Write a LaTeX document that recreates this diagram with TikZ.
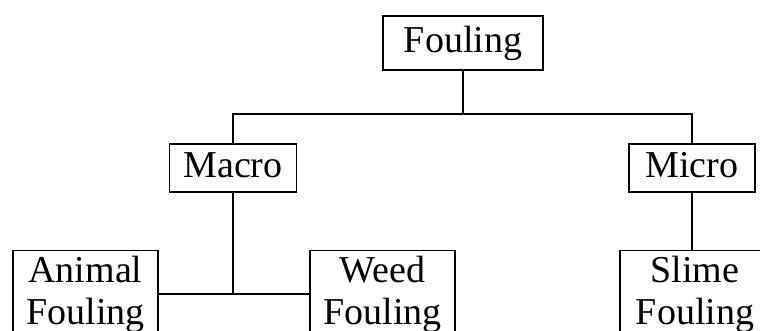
\documentclass[tikz,border=0pt]{standalone}
\usepackage{fontspec}
\setmainfont{Liberation Serif}
\usetikzlibrary{positioning}

\begin{document}
\begin{tikzpicture}[%
x=1pt, y=-1pt,%
box/.style={draw, rectangle, inner sep=0pt, line width=1.3pt, font=\fontsize{38}{42}\selectfont},%
topbox/.style={box, minimum height=48pt, text height=26pt, text depth=6pt},%
leafbox/.style={box, align=center, inner ysep=5pt, anchor=north},%
link/.style={line width=1.3pt},%
  ]
    \useasboundingbox (0,0) rectangle (760,331);
    \clip (0,0) rectangle (760,331);

    \node[topbox, minimum width=160pt, minimum height=54pt] (fouling) at (463,43) {Fouling};

    \node[topbox, minimum width=127pt] (macro) at (233,168) {Macro};

    \node[topbox, minimum width=126pt] (micro) at (692,168) {Micro};

    \node[leafbox, minimum width=145pt] (animal) at (85.5,250) {Animal\\Fouling};

    \node[leafbox, minimum width=145pt] (weed) at (382.5,250) {Weed\\Fouling};

    \node[leafbox, minimum width=150pt] (slime) at (695,250) {Slime\\Fouling};

    \coordinate (branch) at (463,114);

        \draw[link] (fouling) -- (branch);

        \draw[link] (macro.north) |- (branch) -| (micro.north);

        \draw[link] (macro) -- (macro |- animal.east);

        \draw[link] (animal.east) -- (weed.west);

        \draw[link] (micro.south) -- (micro.south |- slime.north);
  \end{tikzpicture}
\end{document}
